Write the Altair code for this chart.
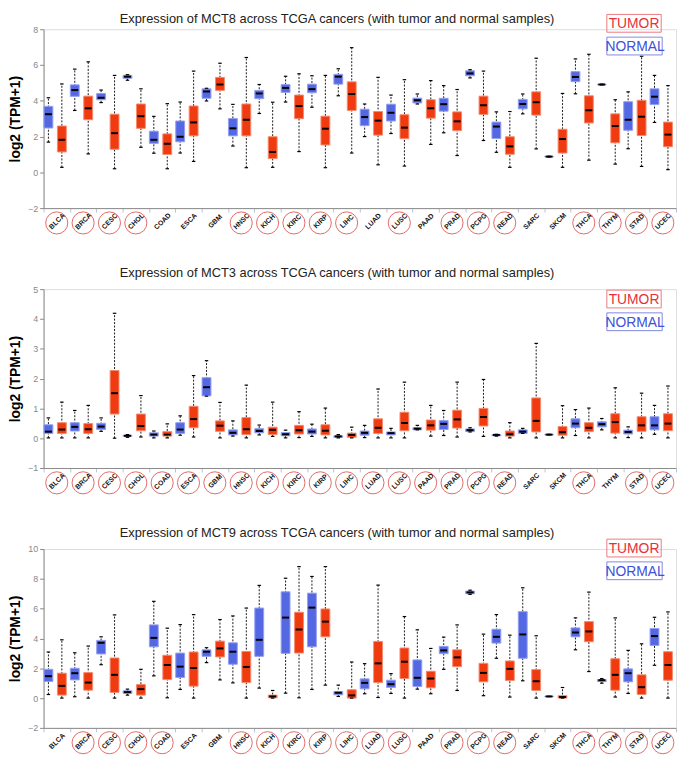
import altair as alt
import pandas as pd

CANCERS = ["BLCA", "BRCA", "CESC", "CHOL", "COAD", "ESCA", "GBM", "HNSC", "KICH", "KIRC",
           "KIRP", "LIHC", "LUAD", "LUSC", "PAAD", "PRAD", "PCPG", "READ", "SARC", "SKCM",
           "THCA", "THYM", "STAD", "UCEC"]
GROUPS = ["NORMAL", "TUMOR"]

# each entry: [min, q1, median, q3, max], in CANCERS order
MCT8_NORMAL = [[1.69, 2.48, 3.25, 3.69, 4.17], [3.46, 4.25, 4.60, 4.89, 5.77], [3.90, 4.06, 4.17, 4.41, 4.60],
               [5.15, 5.26, 5.35, 5.42, 5.46], [1.07, 1.62, 1.82, 2.30, 3.13], [1.08, 1.71, 1.99, 2.87, 3.93],
               [3.99, 4.14, 4.52, 4.67, 4.70], [1.47, 2.04, 2.46, 3.01, 3.80], [3.29, 4.12, 4.41, 4.58, 4.91],
               [3.93, 4.47, 4.72, 4.91, 5.37], [3.64, 4.45, 4.65, 4.93, 5.40], [4.28, 4.93, 5.35, 5.48, 5.79],
               [2.00, 2.61, 3.09, 3.53, 3.82], [2.17, 2.87, 3.33, 3.81, 4.32], [3.82, 3.88, 4.03, 4.15, 4.38],
               [2.21, 3.42, 3.81, 4.14, 4.85], [5.28, 5.40, 5.53, 5.68, 5.74], [1.12, 1.89, 2.56, 2.81, 3.38],
               [3.27, 3.55, 3.82, 4.08, 4.38], [0.86, 0.87, 0.88, 0.89, 0.90], [4.39, 5.07, 5.33, 5.63, 6.34],
               [4.89, 4.90, 4.91, 4.92, 4.93], [1.32, 2.35, 2.94, 3.95, 4.50], [2.79, 3.79, 4.23, 4.67, 5.42]]
MCT8_TUMOR = [[0.28, 1.14, 1.82, 2.59, 4.94], [1.03, 2.94, 3.58, 4.26, 6.18], [0.20, 1.29, 2.19, 3.25, 5.42],
              [1.40, 2.46, 3.14, 3.82, 4.67], [0.20, 1.00, 1.60, 2.15, 3.84], [0.61, 2.04, 2.79, 3.71, 5.66],
              [3.55, 4.58, 4.91, 5.31, 6.10], [0.26, 2.04, 2.94, 3.82, 6.42], [0.28, 0.77, 1.14, 1.99, 3.92],
              [1.16, 3.00, 3.71, 4.32, 5.51], [0.26, 1.53, 2.44, 3.14, 5.42], [1.08, 3.46, 4.38, 5.06, 6.97],
              [0.42, 2.08, 2.89, 3.40, 5.31], [0.35, 1.88, 2.50, 3.22, 5.18], [1.56, 3.03, 3.58, 4.06, 5.13],
              [0.94, 2.33, 2.85, 3.38, 4.63], [1.78, 3.24, 3.75, 4.26, 5.66], [0.28, 1.01, 1.45, 1.99, 3.40],
              [1.31, 3.20, 3.92, 4.50, 6.38], [0.28, 1.08, 1.86, 2.41, 4.41], [0.68, 2.76, 3.47, 4.28, 6.60],
              [0.46, 1.65, 2.59, 3.27, 4.06], [0.33, 2.06, 3.11, 4.03, 6.49], [0.15, 1.43, 2.11, 2.81, 4.85]]

MCT3_NORMAL = [[0.01, 0.16, 0.22, 0.45, 0.68], [0.01, 0.24, 0.38, 0.52, 0.93], [0.23, 0.29, 0.39, 0.50, 0.68],
               [0.03, 0.06, 0.08, 0.10, 0.12], [0.01, 0.07, 0.12, 0.18, 0.24], [0.10, 0.16, 0.29, 0.52, 0.75],
               [1.41, 1.42, 1.71, 2.03, 2.60], [0.07, 0.11, 0.18, 0.28, 0.58], [0.11, 0.18, 0.24, 0.32, 0.44],
               [0.01, 0.08, 0.13, 0.19, 0.27], [0.06, 0.14, 0.22, 0.31, 0.47], [0.01, 0.03, 0.06, 0.08, 0.12],
               [0.02, 0.10, 0.18, 0.24, 0.43], [0.01, 0.11, 0.17, 0.21, 0.33], [0.28, 0.28, 0.32, 0.35, 0.43],
               [0.09, 0.29, 0.48, 0.59, 0.93], [0.21, 0.22, 0.27, 0.31, 0.35], [0.07, 0.08, 0.11, 0.12, 0.13],
               [0.16, 0.16, 0.22, 0.28, 0.33], [0.11, 0.115, 0.12, 0.125, 0.13], [0.09, 0.35, 0.49, 0.65, 0.96],
               [0.28, 0.38, 0.47, 0.55, 0.66], [0.02, 0.14, 0.21, 0.27, 0.38], [0.13, 0.28, 0.43, 0.72, 1.10]]
MCT3_TUMOR = [[0.01, 0.16, 0.29, 0.52, 1.21], [0.01, 0.16, 0.30, 0.49, 1.10], [0.00, 0.81, 1.51, 2.27, 4.19],
              [0.04, 0.25, 0.41, 0.81, 1.43], [0.01, 0.07, 0.12, 0.22, 0.48], [0.04, 0.35, 0.64, 1.07, 2.10],
              [0.01, 0.23, 0.42, 0.58, 1.20], [0.01, 0.12, 0.30, 0.69, 1.78], [0.06, 0.12, 0.28, 0.37, 1.21],
              [0.02, 0.14, 0.27, 0.43, 0.89], [0.01, 0.11, 0.25, 0.45, 1.01], [0.01, 0.03, 0.11, 0.17, 0.37],
              [0.01, 0.16, 0.35, 0.65, 1.65], [0.01, 0.25, 0.51, 0.87, 1.88], [0.07, 0.27, 0.43, 0.61, 1.10],
              [0.04, 0.34, 0.63, 0.94, 1.88], [0.06, 0.41, 0.71, 1.00, 1.97], [0.01, 0.07, 0.13, 0.24, 0.52],
              [0.01, 0.21, 0.58, 1.35, 3.18], [0.01, 0.10, 0.20, 0.39, 1.09], [0.01, 0.22, 0.35, 0.52, 1.01],
              [0.01, 0.17, 0.54, 0.82, 1.69], [0.01, 0.23, 0.43, 0.72, 1.51], [0.01, 0.25, 0.49, 0.82, 1.75]]

MCT9_NORMAL = [[0.24, 1.11, 1.47, 1.93, 3.09], [0.09, 1.22, 1.67, 2.00, 3.04], [2.24, 2.96, 3.71, 3.87, 4.11],
               [0.20, 0.31, 0.40, 0.49, 0.60], [1.49, 3.44, 4.04, 4.91, 6.49], [0.58, 1.38, 2.11, 3.02, 4.93],
               [2.38, 2.80, 3.11, 3.24, 3.38], [1.02, 2.27, 3.11, 3.71, 5.51], [0.67, 2.80, 3.91, 6.04, 7.56],
               [0.33, 3.00, 5.40, 7.13, 8.04], [0.58, 3.44, 6.07, 7.04, 8.16], [0.11, 0.22, 0.36, 0.44, 0.87],
               [0.29, 0.62, 1.02, 1.29, 2.31], [0.31, 0.71, 0.93, 1.20, 1.64], [0.60, 0.78, 1.36, 2.56, 4.58],
               [1.93, 2.98, 3.20, 3.47, 4.09], [6.96, 7.00, 7.09, 7.18, 7.24], [2.67, 3.69, 4.11, 4.62, 5.60],
               [1.16, 2.67, 4.27, 5.80, 7.40], [0.10, 0.105, 0.11, 0.115, 0.12], [3.24, 4.11, 4.40, 4.71, 5.38],
               [1.00, 1.11, 1.20, 1.24, 1.31], [0.31, 1.09, 1.67, 1.96, 3.20], [2.20, 3.53, 4.16, 4.67, 5.42]]
MCT9_TUMOR = [[0.00, 0.20, 0.82, 1.67, 3.91], [0.00, 0.53, 1.04, 1.71, 3.49], [0.00, 0.38, 1.56, 2.69, 5.58],
              [0.00, 0.20, 0.60, 0.91, 1.93], [0.02, 1.24, 2.22, 2.87, 4.69], [0.00, 0.80, 2.02, 3.09, 5.60],
              [1.22, 2.76, 3.33, 3.82, 5.27], [0.00, 1.04, 2.09, 3.13, 6.04], [0.00, 0.02, 0.11, 0.20, 0.51],
              [0.02, 3.02, 4.60, 5.76, 8.82], [0.87, 4.11, 5.13, 5.98, 8.82], [0.00, 0.00, 0.18, 0.56, 2.42],
              [0.04, 1.04, 2.33, 3.80, 7.58], [0.00, 1.31, 2.44, 3.36, 5.47], [0.29, 0.69, 1.31, 1.80, 3.33],
              [0.51, 2.11, 2.73, 3.24, 4.91], [0.16, 1.09, 1.69, 2.33, 4.29], [0.07, 1.18, 1.96, 2.49, 4.22],
              [0.00, 0.51, 1.13, 1.91, 4.18], [0.00, 0.00, 0.07, 0.16, 0.71], [1.78, 3.78, 4.47, 5.13, 7.11],
              [0.07, 0.53, 1.56, 2.64, 5.38], [0.00, 0.24, 0.73, 1.56, 3.64], [0.00, 1.20, 2.22, 3.11, 5.78]]

CIRCLED_MCT8 = ["BLCA", "BRCA", "CESC", "CHOL", "HNSC", "KICH", "KIRC", "KIRP", "LIHC", "LUSC",
                "PRAD", "PCPG", "READ", "THCA", "THYM", "STAD", "UCEC"]
CIRCLED_MCT3 = ["BLCA", "BRCA", "CESC", "CHOL", "COAD", "ESCA", "GBM", "HNSC", "KICH", "KIRC", "KIRP",
                "LIHC", "LUAD", "LUSC", "PAAD", "PRAD", "PCPG", "READ", "THCA", "STAD", "UCEC"]
CIRCLED_MCT9 = ["BRCA", "CESC", "CHOL", "COAD", "HNSC", "KICH", "KIRC", "KIRP", "LIHC", "LUAD", "LUSC",
                "PRAD", "PCPG", "READ", "THCA", "THYM", "STAD", "UCEC"]

TITLES = ["Expression of  MCT8 across TCGA cancers (with tumor and normal samples)",
          "Expression of  MCT3 across TCGA cancers (with tumor and normal samples)",
          "Expression of MCT9  across TCGA cancers (with tumor and normal samples)"]

W, H = 640, 181
FONT = "Liberation Sans"
BOX_FILL = ["#5568e4", "#f03a10"]
BOX_EDGE = ["#93a0f0", "#f58a6e"]


def make_df(normal, tumor):
    rows = []
    for i, c in enumerate(CANCERS):
        for g, vals in (("NORMAL", normal[i]), ("TUMOR", tumor[i])):
            rows.append(dict(cancer=c, group=g, lo=vals[0], q1=vals[1], med=vals[2], q3=vals[3], hi=vals[4]))
    return pd.DataFrame(rows)


def panel(normal, tumor, circled, title, domain, ticks, title_y, legend_top):
    df = make_df(normal, tumor)
    xenc = alt.X("cancer:N", sort=CANCERS,
                 scale=alt.Scale(paddingInner=0, paddingOuter=0),
                 axis=alt.Axis(title=None, labelAngle=315, labelAlign="center", labelBaseline="middle",
                               labelPadding=9, labelFontSize=7, labelFontWeight="bold", labelColor="#111",
                               labelFont=FONT, labelOverlap=False, tickBand="extent", tickSize=4,
                               tickColor="#b9c3d8", domainColor="#8a8a8a"))
    xoff = alt.XOffset("group:N", sort=GROUPS,
                       scale=alt.Scale(paddingInner=0.34, paddingOuter=0.15, align=0.1))
    base = alt.Chart(df).encode(x=xenc, xOffset=xoff)
    yscale = alt.Scale(domain=domain, nice=False, zero=False)
    yaxis = alt.Axis(values=ticks, title="log2 (TPM+1)", titleFontSize=14, titleFontWeight="bold",
                     titleColor="black", titleFont=FONT, titlePadding=5, labelFontSize=9,
                     labelColor="#888", labelFont=FONT, labelOverlap=False, labelFlush=False,
                     tickColor="#888", domainColor="#8a8a8a", grid=False, tickSize=4)

    def Y(field):
        return alt.Y(field, scale=yscale, axis=yaxis)

    whisk = base.mark_rule(color="black", strokeWidth=0.9, strokeDash=[2, 1.5]).encode(
        y=Y("lo:Q"), y2="hi:Q")
    box = base.mark_bar(strokeWidth=1).encode(
        y=Y("q1:Q"), y2="q3:Q",
        fill=alt.Fill("group:N", scale=alt.Scale(domain=GROUPS, range=BOX_FILL), legend=None),
        stroke=alt.Stroke("group:N", scale=alt.Scale(domain=GROUPS, range=BOX_EDGE), legend=None))
    med = base.mark_tick(color="black", thickness=2, size=7, opacity=1).encode(y=Y("med:Q"))
    cap_hi = base.mark_tick(color="black", thickness=1.2, size=3.5, opacity=1).encode(y=Y("hi:Q"))
    cap_lo = base.mark_tick(color="black", thickness=1.2, size=3.5, opacity=1).encode(y=Y("lo:Q"))

    circ = alt.Chart(pd.DataFrame({"cancer": circled})).mark_point(
        shape="circle", filled=False, size=500, color="#e46a6a", strokeWidth=1, opacity=1).encode(
        x=alt.X("cancer:N", sort=CANCERS), y=alt.value(H + 15))

    ttl = alt.Chart(pd.DataFrame({"t": [title]})).mark_text(
        font=FONT, fontSize=13, color="#222", align="center", baseline="middle").encode(
        text="t:N", x=alt.value(297), y=alt.value(title_y))

    lx1, lx2 = W - 70, W - 15
    r1 = alt.Chart(pd.DataFrame({"k": [0]})).mark_rect(fillOpacity=0, stroke="#ea7a80", strokeWidth=1).encode(
        x=alt.value(lx1), x2=alt.value(lx2), y=alt.value(legend_top), y2=alt.value(legend_top + 18))
    r2 = alt.Chart(pd.DataFrame({"k": [0]})).mark_rect(fillOpacity=0, stroke="#8088e0", strokeWidth=1).encode(
        x=alt.value(lx1), x2=alt.value(lx2 + 1), y=alt.value(legend_top + 23), y2=alt.value(legend_top + 41))
    t1 = alt.Chart(pd.DataFrame({"t": ["TUMOR"]})).mark_text(
        font=FONT, fontSize=14, color="#e8303a", align="center", baseline="middle").encode(
        text="t:N", x=alt.value((lx1 + lx2) / 2), y=alt.value(legend_top + 10))
    t2 = alt.Chart(pd.DataFrame({"t": ["NORMAL"]})).mark_text(
        font=FONT, fontSize=14, color="#4050d8", align="center", baseline="middle").encode(
        text="t:N", x=alt.value((lx1 + lx2) / 2 + 1), y=alt.value(legend_top + 33))

    return alt.layer(whisk, box, med, cap_hi, cap_lo, circ, ttl, r1, r2, t1, t2).properties(width=W, height=H)


p1 = panel(MCT8_NORMAL, MCT8_TUMOR, CIRCLED_MCT8, TITLES[0], [-2, 8], [-2, 0, 2, 4, 6, 8], -10, -15)
p2 = panel(MCT3_NORMAL, MCT3_TUMOR, CIRCLED_MCT3, TITLES[1], [-1, 5], [-1, 0, 1, 2, 3, 4, 5], -16, 1)
p3 = panel(MCT9_NORMAL, MCT9_TUMOR, CIRCLED_MCT9, TITLES[2], [-2, 10], [-2, 0, 2, 4, 6, 8, 10], -16, -10)

chart = alt.vconcat(p1, p2, p3, spacing=30).resolve_scale(y="independent").properties(
    padding={"left": 0, "top": 0, "right": 0, "bottom": 0}
).configure_view(stroke=None).configure_axisY(labelOverlap=False).configure(background="white")

chart.save("out.html", embed_options={"renderer": "svg", "actions": False})
